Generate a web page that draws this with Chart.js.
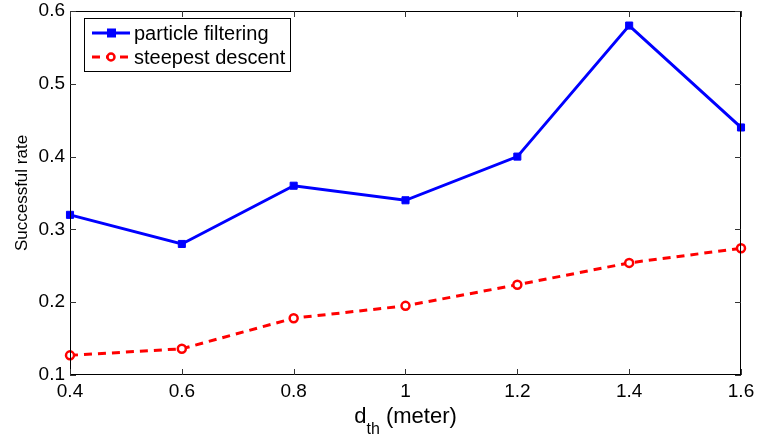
<!DOCTYPE html>
<html lang="en">
<head>
<meta charset="UTF-8">
<title>Successful rate vs d_th</title>
<script src="https://cdn.jsdelivr.net/npm/chart.js"></script>
<style>
    html, body { margin: 0; padding: 0; background: #fff; }
    #wrap { width: 759px; height: 443px; }
</style>
</head>
<body>
<div id="wrap"><canvas id="rateChart" width="759" height="443"></canvas></div>
<script>
    // threshold distance d_th (meter)
    const dth = [0.4, 0.6, 0.8, 1.0, 1.2, 1.4, 1.6];
    const particleFiltering = [0.32, 0.28, 0.36, 0.34, 0.40, 0.58, 0.44];
    const steepestDescent = [0.127, 0.136, 0.178, 0.195, 0.224, 0.254, 0.274];
    const xTicks = [0.4, 0.6, 0.8, 1.0, 1.2, 1.4, 1.6];
    const yTicks = [0.1, 0.2, 0.3, 0.4, 0.5, 0.6];

    const FONT = '"Liberation Sans", Arial, Helvetica, sans-serif';

    function fmt(v) {
        return String(Number(v.toFixed(1)));
    }

    // box, inward ticks, axis titles and the legend, drawn on top
    const matlabFrame = {
        id: 'matlabFrame',
        afterDraw(chart) {
            const ctx = chart.ctx;
            const a = chart.chartArea;
            const xs = chart.scales.x;
            const ys = chart.scales.y;
            const tl = 6;

            ctx.save();
            ctx.strokeStyle = '#000';
            ctx.lineWidth = 1;
            ctx.strokeRect(a.left + 0.5, a.top + 0.5, a.right - a.left - 1, a.bottom - a.top - 1);

            ctx.strokeStyle = '#333';
            ctx.beginPath();
            xTicks.forEach(v => {
                const px = Math.round(xs.getPixelForValue(v)) + 0.5;
                ctx.moveTo(px, a.bottom); ctx.lineTo(px, a.bottom - tl);
                ctx.moveTo(px, a.top); ctx.lineTo(px, a.top + tl);
            });
            yTicks.forEach(v => {
                const py = Math.round(ys.getPixelForValue(v)) + 0.5;
                ctx.moveTo(a.left, py); ctx.lineTo(a.left + tl, py);
                ctx.moveTo(a.right, py); ctx.lineTo(a.right - tl, py);
            });
            ctx.stroke();

            // x title with subscript
            ctx.fillStyle = '#000';
            ctx.textBaseline = 'alphabetic';
            const pieces = [['d', 22, 0], ['th', 16, 11], [' (meter)', 22, 0]];
            let total = 0;
            pieces.forEach(p => { ctx.font = p[1] + 'px ' + FONT; total += ctx.measureText(p[0]).width; });
            let x = (a.left + a.right) / 2 - total / 2;
            pieces.forEach(p => {
                ctx.font = p[1] + 'px ' + FONT;
                ctx.fillText(p[0], x, 423 + p[2]);
                x += ctx.measureText(p[0]).width;
            });

            // y title
            ctx.save();
            ctx.translate(27, (a.top + a.bottom) / 2);
            ctx.rotate(-Math.PI / 2);
            ctx.font = '17px ' + FONT;
            ctx.textAlign = 'center';
            ctx.fillText('Successful rate', 0, 0);
            ctx.restore();

            // legend
            const lx = 84, ly = 18, lw = 206, lh = 53;
            ctx.fillStyle = '#fff';
            ctx.fillRect(lx, ly, lw, lh);
            ctx.strokeStyle = '#000';
            ctx.strokeRect(lx + 0.5, ly + 0.5, lw, lh);
            const rows = [
                { label: 'particle filtering', color: '#0000ff', dash: [], y: 33, marker: 'rect' },
                { label: 'steepest descent', color: '#ff0000', dash: [8, 6], y: 57, marker: 'circle' }
            ];
            rows.forEach(r => {
                ctx.strokeStyle = r.color;
                ctx.lineWidth = 3;
                ctx.setLineDash(r.dash);
                ctx.beginPath();
                ctx.moveTo(92, r.y); ctx.lineTo(130, r.y);
                ctx.stroke();
                ctx.setLineDash([]);
                if (r.marker === 'rect') {
                    ctx.fillStyle = r.color;
                    ctx.fillRect(107, r.y - 4.5, 9, 9);
                } else {
                    ctx.lineWidth = 2.5;
                    ctx.fillStyle = '#fff';
                    ctx.beginPath();
                    ctx.arc(111, r.y, 3.5, 0, Math.PI * 2);
                    ctx.fill();
                    ctx.stroke();
                }
                ctx.fillStyle = '#000';
                ctx.font = '20px ' + FONT;
                ctx.textBaseline = 'middle';
                ctx.fillText(r.label, 134, r.y + 1);
            });
            ctx.restore();
        }
    };

    new Chart(document.getElementById('rateChart'), {
        type: 'line',
        data: {
            datasets: [
                {
                    label: 'particle filtering',
                    data: dth.map((d, i) => ({ x: d, y: particleFiltering[i] })),
                    borderColor: '#0000ff',
                    backgroundColor: '#0000ff',
                    borderWidth: 3,
                    pointStyle: 'rect',
                    pointRadius: 5,
                    pointBorderWidth: 1,
                    tension: 0
                },
                {
                    label: 'steepest descent',
                    data: dth.map((d, i) => ({ x: d, y: steepestDescent[i] })),
                    borderColor: '#ff0000',
                    backgroundColor: '#ffffff',
                    borderWidth: 3,
                    borderDash: [8, 6],
                    pointStyle: 'circle',
                    pointRadius: 4,
                    pointBorderWidth: 2.5,
                    tension: 0
                }
            ]
        },
        options: {
            responsive: false,
            animation: false,
            clip: false,
            layout: { padding: { top: 11, right: 18, left: 0, bottom: 0 } },
            plugins: {
                legend: { display: false },
                tooltip: { enabled: false }
            },
            scales: {
                x: {
                    type: 'linear',
                    min: 0.4,
                    max: 1.6,
                    afterFit: s => { s.height = 68; s.paddingLeft = 0; s.paddingRight = 0; },
                    afterBuildTicks: s => { s.ticks = xTicks.map(v => ({ value: v })); },
                    grid: { display: false, drawTicks: false },
                    border: { display: false },
                    ticks: {
                        color: '#000',
                        padding: 5,
                        font: { family: FONT, size: 19 },
                        maxRotation: 0,
                        callback: v => fmt(v)
                    }
                },
                y: {
                    min: 0.1,
                    max: 0.6,
                    afterFit: s => { s.width = 70; s.paddingTop = 0; s.paddingBottom = 0; },
                    afterBuildTicks: s => { s.ticks = yTicks.map(v => ({ value: v })); },
                    grid: { display: false, drawTicks: false },
                    border: { display: false },
                    ticks: {
                        color: '#000',
                        padding: 5,
                        font: { family: FONT, size: 19 },
                        callback: v => fmt(v)
                    }
                }
            }
        },
        plugins: [matlabFrame]
    });
</script>
</body>
</html>
